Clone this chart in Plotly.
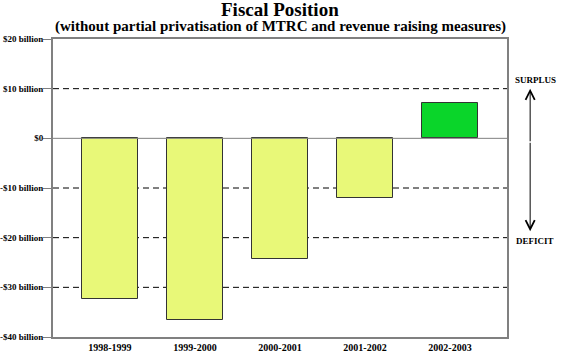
import plotly.graph_objects as go

categories = ["1998-1999", "1999-2000", "2000-2001", "2001-2002", "2002-2003"]
values = [-32.4, -36.6, -24.2, -12.0, 7.2]
bar_colors = ["#E8F878", "#E8F878", "#E8F878", "#E8F878", "#0AD52A"]
tick_vals = [20, 10, 0, -10, -20, -30, -40]
tick_text = ["$20 billion", "$10 billion", "$0", "-$10 billion", "-$20 billion", "-$30 billion", "-$40 billion"]
dash_levels = [10, -10, -20, -30]

FONT = "Liberation Serif"

fig = go.Figure()
fig.add_trace(go.Bar(
    x=list(range(len(categories))), y=values,
    marker=dict(color=bar_colors, line=dict(color="#333333", width=1)),
    width=0.66, hoverinfo="skip",
))

shapes = []
for lv in dash_levels:
    shapes.append(dict(type="line", xref="paper", yref="y", x0=0, x1=1, y0=lv, y1=lv,
                       line=dict(color="black", width=1, dash="6px,4px"), layer="below"))
shapes.append(dict(type="line", xref="paper", yref="y", x0=0, x1=1, y0=0, y1=0,
                   line=dict(color="#808080", width=1), layer="above"))
fig.update_layout(shapes=shapes)

fig.update_xaxes(
    range=[-0.67, 4.67], tickvals=list(range(len(categories))), ticktext=categories,
    showgrid=False, zeroline=False, showline=True, linecolor="#808080", linewidth=2,
    mirror=True, ticks="", automargin=False,
    tickfont=dict(family=FONT, size=10, color="black", weight="bold"),
)
fig.update_yaxes(
    range=[-40, 20], tickvals=tick_vals, ticktext=tick_text,
    showgrid=False, zeroline=False, showline=True, linecolor="#808080", linewidth=2,
    mirror=True, ticks="outside", ticklen=8, tickcolor="#808080", tickwidth=1,
    automargin=False, ticklabelstandoff=-2,
    tickfont=dict(family=FONT, size=9, color="black", weight="bold"),
)

annotations = [
    dict(text="<b>Fiscal Position</b>", xref="paper", yref="paper", x=0.5, y=1, yshift=30,
         xanchor="center", yanchor="middle", showarrow=False,
         font=dict(family=FONT, size=19, color="black")),
    dict(text="<b>(without partial privatisation of MTRC and revenue raising measures)</b>",
         xref="paper", yref="paper", x=0.5, y=1, yshift=13, xanchor="center", yanchor="middle",
         showarrow=False, font=dict(family=FONT, size=15, color="black")),
    dict(text="<b>SURPLUS</b>", xref="paper", yref="y", x=1.062, y=10, yshift=9,
         xanchor="center", yanchor="middle", showarrow=False,
         font=dict(family=FONT, size=9, color="black")),
    dict(text="<b>DEFICIT</b>", xref="paper", yref="y", x=1.062, y=-20, yshift=-3,
         xanchor="center", yanchor="middle", showarrow=False,
         font=dict(family=FONT, size=9, color="black")),
    dict(text="", xref="x domain", yref="y", axref="x domain", ayref="y",
         x=1.051, y=10, ax=1.051, ay=-0.9, showarrow=True, arrowhead=5, arrowsize=1.8,
         arrowwidth=1, arrowcolor="black", standoff=0, startstandoff=0),
    dict(text="", xref="x domain", yref="y", axref="x domain", ayref="y",
         x=1.051, y=-18.7, ax=1.051, ay=-0.6, showarrow=True, arrowhead=5, arrowsize=1.8,
         arrowwidth=1, arrowcolor="black", standoff=0, startstandoff=0),
]
fig.update_layout(
    annotations=annotations,
    width=562, height=357,
    margin=dict(l=53, r=55, t=39, b=20),
    plot_bgcolor="white", paper_bgcolor="white",
    showlegend=False, bargap=0,
)
fig.write_html("out.html", config={"displayModeBar": False},
               post_script="document.body.style.margin='0';document.body.style.overflow='hidden';")
